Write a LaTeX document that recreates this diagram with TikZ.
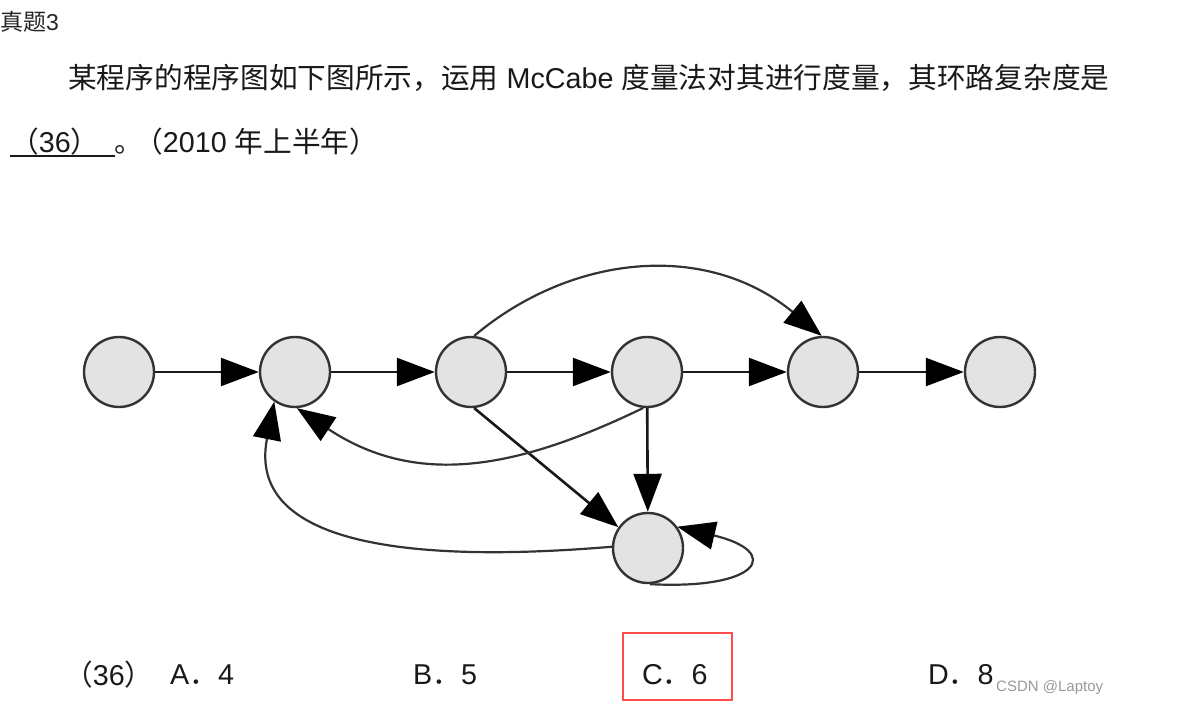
\documentclass[tikz,border=0pt]{standalone}
\usepackage{fontspec}
\setmainfont{Liberation Sans}
\newfontfamily\cjk{Noto Sans CJK SC}
\usetikzlibrary{arrows.meta}
\begin{document}
\begin{tikzpicture}[x=1pt,y=-1pt,
  vtx/.style={circle,draw=black!80,line width=2.4pt,fill=black!11,minimum size=70pt,inner sep=0pt},
  flow/.style={line width=2.6pt,draw=black!90,-{Triangle[length=38pt,width=28pt,color=black]}},
  curv/.style={line width=2.2pt,draw=black!80,-{Triangle[length=38pt,width=28pt,color=black]}},
  txt/.style={anchor=west,inner sep=0pt,font=\fontsize{28.7}{34}\selectfont,text=black!90}
]
\useasboundingbox[fill=white] (0,0) rectangle (1187,722);

% texts
\node[anchor=west,inner sep=0pt,font=\fontsize{23}{27}\selectfont,text=black!85] (ttl) at (0,22) {{\cjk 真题}3};
\node[txt] (q1) at (68,78) {{\cjk 某程序的程序图如下图所示，运用} McCabe {\cjk 度量法对其进行度量，其环路复杂度是}};
\node[txt] (blank) at (10,142) {{\cjk （}36{\cjk ）}};
\draw[line width=1.5pt,black!90] (10,156) -- (115,156);
\node[txt] (yr) at (114,142) {\makebox[20pt][l]{\cjk 。}{\cjk （}2010 {\cjk 年上半年）}};

% graph
\node[vtx] (n1) at (119,372) {};
\node[vtx] (n2) at (295,372) {};
\node[vtx] (n3) at (471,372) {};
\node[vtx] (n4) at (647,372) {};
\node[vtx] (n5) at (823,372) {};
\node[vtx] (n6) at (1000,372) {};
\node[vtx] (n7) at (648,548) {};

\draw[flow] (n1) -- (n2);
\draw[flow] (n2) -- (n3);
\draw[flow] (n3) -- (n4);
\draw[flow] (n4) -- (n5);
\draw[flow] (n5) -- (n6);
\draw[flow] (n4) -- (n7);
\draw[flow] (n3.275) -- (n7.145);
\draw[curv] (n3.85) .. controls (570,255) and (705,240) .. (n5.92);
\draw[curv] (n4.264) .. controls (523,466) and (420,490) .. (n2.273);
\draw[curv] (n7.178) .. controls (430,562) and (245,551) .. (n2.235);
\draw[curv] (n7.273) .. controls (760,590) and (783,552) .. (n7.36);

% options
\node[txt] (opt) at (64,675) {{\cjk （}36{\cjk ）}};
\node[txt] (oa) at (170,675) {A{\cjk ．}4};
\node[txt] (ob) at (413,675) {B{\cjk ．}5};
\node[txt] (oc) at (642,675) {C{\cjk ．}6};
\node[txt] (od) at (928,675) {D{\cjk ．}8};
\node[draw=red!70,line width=2pt,minimum width=109pt,minimum height=67pt,inner sep=0pt] (ans) at (677.5,666.5) {};
\node[anchor=west,inner sep=0pt,font=\fontsize{15}{18}\selectfont,text=black!40] (wm) at (996,688) {CSDN @Laptoy};
\end{tikzpicture}
\end{document}
